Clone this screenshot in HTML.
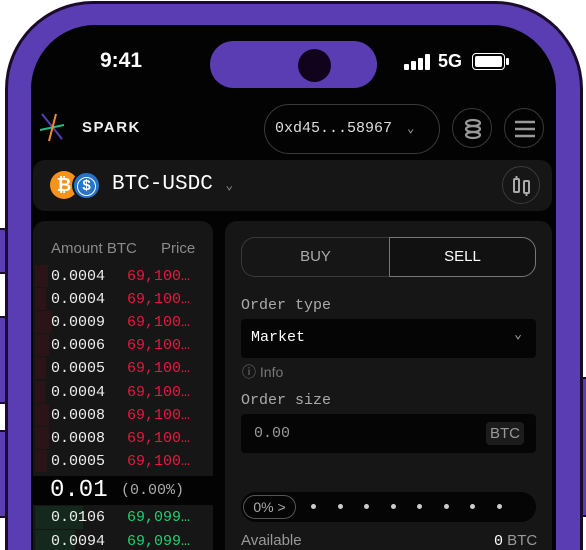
<!DOCTYPE html>
<html><head><meta charset="utf-8">
<style>
*{margin:0;padding:0;box-sizing:border-box}
html{width:586px;height:550px;overflow:hidden}
body{width:586px;height:550px;background:#fff;position:relative;overflow:hidden;font-family:"Liberation Sans",sans-serif}
.abs{position:absolute}
.mono{font-family:"Liberation Mono","DejaVu Sans Mono",monospace}
.btn-side{position:absolute;background:#5b3db3;border:2px solid #1b0b2a;border-radius:4px}
.row{position:absolute;left:33px;width:180px;height:23px}
.row .bar{position:absolute;left:2px;top:0;height:22px}
.row .amt{position:absolute;left:18px;top:3px;font-size:15px;color:#eee}
.row .prc{position:absolute;left:94px;top:3px;font-size:15px}
.dot{position:absolute;width:5px;height:5px;border-radius:50%;background:#ccc;top:504px}
</style></head><body>
<div class="btn-side" style="left:0;top:228px;width:8px;height:46px;border-left:0;border-radius:0 4px 4px 0"></div>
<div class="btn-side" style="left:0;top:316px;width:8px;height:88px;border-left:0;border-radius:0 4px 4px 0"></div>
<div class="btn-side" style="left:0;top:430px;width:8px;height:88px;border-left:0;border-radius:0 4px 4px 0"></div>
<div class="btn-side" style="left:578px;top:377px;width:8px;height:140px;border-right:0;border-radius:4px 0 0 4px"></div>
<div class="abs" style="left:5px;top:1px;width:578px;height:549px;background:#5b3db3;border:3px solid #1b0b2a;border-bottom:0;border-radius:88px 88px 0 0"></div>
<div class="abs" style="left:31px;top:25px;width:525px;height:525px;background:#030303;border-radius:64px 64px 0 0"></div>
<div class="abs" style="left:210px;top:41px;width:167px;height:47px;background:#5b3db3;border-radius:24px"></div>
<div class="abs" style="left:298px;top:49px;width:33px;height:33px;background:#12031c;border-radius:50%"></div>
<div class="abs" style="left:100px;top:49px;font-size:21px;font-weight:bold;color:#fff">9:41</div>
<div class="abs" style="left:404px;top:54px;width:28px;height:16px">
<div class="abs" style="left:0;bottom:0;width:5px;height:6px;background:#fff;border-radius:1px"></div>
<div class="abs" style="left:7px;bottom:0;width:5px;height:9px;background:#fff;border-radius:1px"></div>
<div class="abs" style="left:14px;bottom:0;width:5px;height:12px;background:#fff;border-radius:1px"></div>
<div class="abs" style="left:21px;bottom:0;width:5px;height:16px;background:#fff;border-radius:1px"></div></div>
<div class="abs" style="left:438px;top:51px;font-size:18px;font-weight:bold;color:#fff">5G</div>
<div class="abs" style="left:472px;top:53px;width:33px;height:17px;border:1.5px solid #fff;border-radius:4px;padding:2px"><div style="width:100%;height:100%;background:#fff;border-radius:2px"></div></div>
<div class="abs" style="left:506px;top:58px;width:3px;height:7px;background:#fff;border-radius:1px"></div>

<svg class="abs" style="left:38px;top:112px" width="28" height="30"><line x1="4" y1="2" x2="24" y2="27" stroke="#5b3db3" stroke-width="2"/><line x1="2" y1="18" x2="26" y2="13" stroke="#1bbf8a" stroke-width="2"/><line x1="18" y1="2" x2="11" y2="29" stroke="#f08a2a" stroke-width="2"/></svg>
<div class="abs" style="left:82px;top:119px;font-size:15px;font-weight:bold;color:#eee;letter-spacing:1.5px">SPARK</div>
<div class="abs mono" style="left:264px;top:104px;width:176px;height:50px;border:1px solid #3a3a3a;border-radius:25px;color:#ddd;font-size:15px;padding:15px 0 0 10px">0xd45...58967 <span style="color:#aaa;font-size:12px;margin-left:6px">⌄</span></div>
<div class="abs" style="left:452px;top:108px;width:40px;height:40px;border:1px solid #3a3a3a;border-radius:50%"><svg width="40" height="40"><g fill="none" stroke="#999" stroke-width="2.2"><ellipse cx="20" cy="14" rx="7" ry="3"/><ellipse cx="20" cy="20" rx="7" ry="3"/><ellipse cx="20" cy="26" rx="7" ry="3"/></g></svg></div>
<div class="abs" style="left:504px;top:108px;width:40px;height:40px;border:1px solid #3a3a3a;border-radius:50%"><svg width="40" height="40"><g stroke="#999" stroke-width="2.5"><line x1="10" y1="13" x2="30" y2="13"/><line x1="10" y1="20" x2="30" y2="20"/><line x1="10" y1="27" x2="30" y2="27"/></g></svg></div>

<div class="abs" style="left:33px;top:160px;width:519px;height:51px;background:#161616;border-radius:12px"></div>
<div class="abs" style="left:50px;top:171px;width:28px;height:28px;background:#f7931a;border-radius:50%;color:#fff;font-weight:bold;font-size:18px;text-align:center;line-height:28px">₿</div>
<div class="abs" style="left:72px;top:171px;width:29px;height:29px;background:#2775ca;border-radius:50%;border:2px solid #161616;color:#fff;font-weight:bold;font-size:15px;text-align:center;line-height:25px"><span style="border:1.5px solid #fff;border-radius:50%;display:inline-block;width:19px;height:19px;line-height:16px;margin-top:3px">$</span></div>
<div class="abs mono" style="left:112px;top:173px;font-size:21px;color:#fff">BTC-USDC <span style="color:#888;font-size:13px">⌄</span></div>
<div class="abs" style="left:502px;top:166px;width:38px;height:38px;border:1px solid #3a3a3a;border-radius:50%"><svg width="38" height="38"><g fill="none" stroke="#aaa" stroke-width="2"><rect x="11" y="12" width="5" height="13" rx="1"/><rect x="21" y="14" width="5" height="12" rx="1"/><line x1="13.5" y1="9" x2="13.5" y2="12"/><line x1="23.5" y1="26" x2="23.5" y2="29"/></g></svg></div>

<div class="abs" style="left:33px;top:221px;width:180px;height:329px;background:#161616;border-radius:12px 12px 0 0"></div>
<div class="abs" style="left:51px;top:240px;font-size:15px;color:#8a8a8a">Amount BTC</div>
<div class="abs" style="left:161px;top:240px;font-size:15px;color:#8a8a8a">Price</div>
<div id="book"></div>
<div class="abs" style="left:33px;top:476px;width:180px;height:29px;background:#030303"></div>
<div class="abs mono" style="left:50px;top:477px;font-size:24px;color:#fff">0.01</div>
<div class="abs mono" style="left:121px;top:482px;font-size:15px;color:#aaa">(0.00%)</div>

<div class="abs" style="left:225px;top:221px;width:327px;height:329px;background:#161616;border-radius:12px 12px 0 0"></div>
<div class="abs" style="left:241px;top:237px;width:148px;height:40px;border:1px solid #3a3a3a;border-right:none;border-radius:14px 0 0 14px;color:#aaa;font-size:15px;text-align:center;line-height:38px">BUY</div>
<div class="abs" style="left:389px;top:237px;width:147px;height:40px;border:1px solid #777;border-radius:0 14px 14px 0;background:#111;color:#fff;font-size:15px;text-align:center;line-height:38px">SELL</div>
<div class="abs mono" style="left:241px;top:297px;font-size:15px;color:#aaa">Order type</div>
<div class="abs mono" style="left:241px;top:319px;width:295px;height:39px;background:#050505;border-radius:4px;color:#fff;font-size:15px;padding:10px 0 0 10px">Market<span style="position:absolute;right:14px;top:8px;color:#aaa;font-size:13px">⌄</span></div>
<div class="abs" style="left:242px;top:362px;font-size:14px;color:#777">ⓘ Info</div>
<div class="abs mono" style="left:241px;top:392px;font-size:15px;color:#aaa">Order size</div>
<div class="abs mono" style="left:241px;top:414px;width:295px;height:39px;background:#050505;border-radius:4px;color:#999;font-size:15px;padding:11px 0 0 13px">0.00</div>
<div class="abs" style="left:486px;top:422px;width:38px;height:23px;background:#1c1c1c;border-radius:4px;color:#999;font-size:15px;text-align:center;line-height:23px">BTC</div>
<div class="abs" style="left:241px;top:492px;width:295px;height:30px;background:#050505;border-radius:15px"></div>
<div class="abs" style="left:243px;top:495px;width:53px;height:24px;border:1px solid #555;border-radius:12px;color:#aaa;font-size:14px;text-align:center;line-height:22px">0% &gt;</div>
<div id="dots"></div>
<div class="abs" style="left:241px;top:532px;font-size:15px;line-height:17px;color:#999">Available</div>
<div class="abs" style="left:494px;top:532px;font-size:15px;line-height:17px;color:#999"><span class="mono" style="color:#fff">0</span> BTC</div>

<script>
const askAmounts=["0.0004","0.0004","0.0009","0.0006","0.0005","0.0004","0.0008","0.0008","0.0005"];
const askWidths=[13,11,17,14,11,10,14,14,12];
const bidAmounts=["0.0106","0.0094"];
const bidWidths=[48,40];
const book=document.getElementById('book');
function row(top,amt,price,color,bg,w,name,h){
  const r=document.createElement('div');r.className='row mono';r.style.top=top+'px';r.style.height=h+'px';
  
  
  r.innerHTML='<div class="bar" style="height:'+h+'px;width:'+w+'px;background:'+bg+'"></div><div class="amt">'+amt+'</div><div class="prc" style="color:'+color+'">'+price+'</div>';
  book.appendChild(r);
}
askAmounts.forEach((a,i)=>row(265+i*23.1,a,'69,100…','#e8173f','#2a1418',askWidths[i],'ask-row',22));
bidAmounts.forEach((a,i)=>row(506+i*24,a,'69,099…','#19d26f','#14281e',bidWidths[i],'bid-row',i==1?20:23));
const dots=document.getElementById('dots');
for(let i=0;i<8;i++){const d=document.createElement('div');d.className='dot';d.style.left=(311+i*26.5)+'px';


dots.appendChild(d);}
</script>
</body></html>
